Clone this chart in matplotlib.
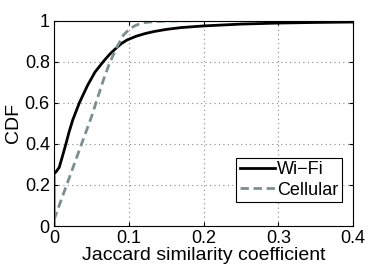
import numpy as np
import matplotlib
matplotlib.use('Agg')
import matplotlib.pyplot as plt

# =============================================================================
# DATA
# =============================================================================
wifi_x = [0.0, 0.0, 0.003, 0.007, 0.011, 0.016, 0.02, 0.025, 0.034, 0.045, 0.055,
          0.067, 0.075, 0.082, 0.09, 0.098, 0.11, 0.122, 0.134, 0.15, 0.17, 0.2,
          0.25, 0.3, 0.35, 0.4]
wifi_y = [0.0, 0.255, 0.265, 0.285, 0.335, 0.40, 0.455, 0.515, 0.60, 0.685, 0.75,
          0.805, 0.838, 0.862, 0.888, 0.906, 0.924, 0.937, 0.947, 0.957, 0.966, 0.974,
          0.983, 0.988, 0.991, 0.993]

cell_x = [0.0, 0.005, 0.011, 0.017, 0.025, 0.033, 0.042, 0.05, 0.058, 0.066, 0.074,
          0.084, 0.093, 0.102, 0.11, 0.12, 0.135, 0.15, 0.2, 0.3, 0.4]
cell_y = [0.03, 0.08, 0.14, 0.20, 0.28, 0.36, 0.45, 0.53, 0.62, 0.71, 0.79,
          0.87, 0.93, 0.962, 0.978, 0.99, 0.995, 0.998, 1.0, 1.0, 1.0]

xticks = [0, 0.1, 0.2, 0.3, 0.4]
yticks = [0, 0.2, 0.4, 0.6, 0.8, 1]

# =============================================================================
# PLOT
# =============================================================================
plt.rcParams['font.family'] = ['Liberation Sans', 'DejaVu Sans']

fig = plt.figure(figsize=(3.91, 2.71), dpi=100)
ax = fig.add_axes([0.138, 0.166, 0.765, 0.758])

ax.plot(wifi_x, wifi_y, color='black', lw=2.0, label='Wi\u2212Fi')
ax.plot(cell_x, cell_y, color='#7a8f90', lw=2.0, ls=(0, (3.0, 1.7)), label='Cellular')

ax.set_xlim(0, 0.4)
ax.set_ylim(0, 1)
ax.set_xticks(xticks)
ax.set_xticklabels(['0', '0.1', '0.2', '0.3', '0.4'])
ax.set_yticks(yticks)
ax.set_yticklabels(['0', '0.2', '0.4', '0.6', '0.8', '1'])
ax.tick_params(direction='in', top=True, right=True, labelsize=13, length=3, pad=3)
ax.grid(True, ls=(0, (1, 3)), color='#888888', lw=0.8)
for s in ax.spines.values():
    s.set_linewidth(0.8)

ax.set_xlabel('Jaccard similarity coefficient', fontsize=14, labelpad=0)
ax.set_ylabel('CDF', fontsize=14, labelpad=2)

leg = ax.legend(loc='lower right', bbox_to_anchor=(0.962, 0.115), fontsize=13,
                fancybox=False, framealpha=1, edgecolor='black', handlelength=1.95,
                handletextpad=0.1, borderpad=0.2, labelspacing=0.2, borderaxespad=0)
leg.get_frame().set_linewidth(0.8)

fig.savefig('out.png', dpi=100)
